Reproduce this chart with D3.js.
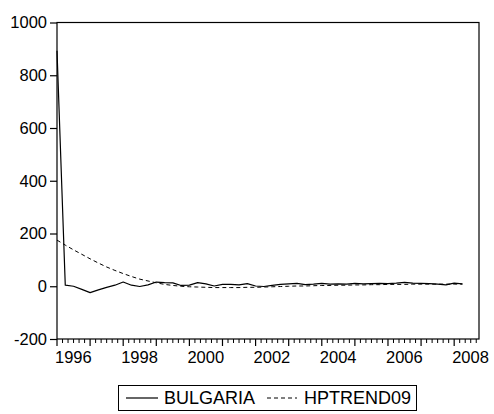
<!DOCTYPE html>
<html>
<head>
<meta charset="utf-8">
<script src="https://cdn.jsdelivr.net/npm/d3@7"></script>
<style>
  html, body { margin: 0; padding: 0; background: #fff; }
  svg { display: block; font-family: "Liberation Sans", Arial, sans-serif; }
</style>
</head>
<body>
<svg id="chart" width="494" height="414"></svg>
<script>
// Quarterly observations, 1996Q1 .. 2008Q2
const startYear = 1996;
const bulgaria = [
  893, 4, 0, -12, -24, -14, -4, 4, 16, 4,
  -1, 5, 16, 14, 13, 3, 4, 14, 9, 1,
  7, 7, 5, 10, 1, -1, 3, 7, 9, 11,
  6, 8, 11, 8, 9, 8, 11, 9, 10, 11,
  10, 12, 15, 12, 11, 10, 8, 5, 12, 9
];
const hptrend09 = [
  175, 156, 138, 121, 104, 88, 73, 60, 48, 37,
  27, 20, 13, 7, 3, 0, -2, -3, -4, -5,
  -5, -5, -5, -4, -4, -3, -2, -1, 0, 1,
  1, 2, 3, 3, 4, 4, 5, 5, 6, 6,
  7, 7, 7, 8, 8, 8, 8, 8, 8, 8
];
const yTicks = [-200, 0, 200, 400, 600, 800, 1000];
const xLabelYears = [1996, 1998, 2000, 2002, 2004, 2006, 2008];
const seriesNames = ["BULGARIA", "HPTREND09"];

const svg = d3.select("#chart");
const plot = { left: 57, right: 479, top: 22.5, bottom: 339 };

// x in months since Jan 1996; axis runs a little past the last observation
const x = d3.scaleLinear().domain([0, 153]).range([plot.left, plot.right]);
const y = d3.scaleLinear().domain([-200, 1000]).range([plot.bottom, plot.top]);

// frame
svg.append("rect")
  .attr("x", plot.left).attr("y", plot.top)
  .attr("width", plot.right - plot.left).attr("height", plot.bottom - plot.top)
  .attr("fill", "none").attr("stroke", "#000").attr("stroke-width", 1.2);

// y axis, plain integers with an ASCII hyphen for negatives
const yAxis = d3.axisLeft(y).tickValues(yTicks).tickSize(7).tickPadding(3)
  .tickFormat(d => String(d));
const gy = svg.append("g").attr("transform", `translate(${plot.left},0)`).call(yAxis);
gy.select(".domain").remove();
gy.selectAll("line").attr("stroke", "#000").attr("stroke-width", 1.2);
gy.selectAll("text").attr("font-size", "16.5px").attr("fill", "#000")
  .attr("font-family", '"Liberation Sans", Arial, sans-serif');

// x axis: minor ticks every two months, major ticks each January
const minorTicks = d3.range(0, 154, 2).filter(m => m % 12 !== 0);
const majorTicks = d3.range(0, 154, 12);
const gx = svg.append("g");
gx.selectAll("line.minor").data(minorTicks).join("line")
  .attr("class", "minor")
  .attr("x1", d => x(d)).attr("x2", d => x(d))
  .attr("y1", plot.bottom).attr("y2", plot.bottom + 4)
  .attr("stroke", "#000").attr("stroke-width", 1);
gx.selectAll("line.major").data(majorTicks).join("line")
  .attr("class", "major")
  .attr("x1", d => x(d)).attr("x2", d => x(d))
  .attr("y1", plot.bottom).attr("y2", plot.bottom + 7)
  .attr("stroke", "#000").attr("stroke-width", 1.2);
gx.selectAll("text").data(xLabelYears).join("text")
  .attr("x", d => x((d - startYear) * 12) - 2)
  .attr("y", 363)
  .attr("text-anchor", "start")
  .attr("font-size", "16.5px")
  .text(d => d);

// series
const line = d3.line()
  .x((d, i) => x(i * 3))
  .y(d => y(d));

svg.append("path").datum(hptrend09)
  .attr("d", line).attr("fill", "none")
  .attr("stroke", "#000").attr("stroke-width", 1)
  .attr("stroke-dasharray", "4,3");

svg.append("path").datum(bulgaria)
  .attr("d", line).attr("fill", "none")
  .attr("stroke", "#000").attr("stroke-width", 1.2)
  .attr("stroke-linejoin", "round");

// legend
const lg = svg.append("g");
lg.append("rect")
  .attr("x", 118.5).attr("y", 385.5).attr("width", 298).attr("height", 25)
  .attr("fill", "#fff").attr("stroke", "#000").attr("stroke-width", 1);
lg.append("line")
  .attr("x1", 126).attr("x2", 158).attr("y1", 398).attr("y2", 398)
  .attr("stroke", "#000").attr("stroke-width", 1.2);
lg.append("text").attr("x", 164).attr("y", 404)
  .attr("font-size", "18px").text(seriesNames[0]);
lg.append("line")
  .attr("x1", 267).attr("x2", 297).attr("y1", 398).attr("y2", 398)
  .attr("stroke", "#000").attr("stroke-width", 1)
  .attr("stroke-dasharray", "4,3");
lg.append("text").attr("x", 304).attr("y", 404)
  .attr("font-size", "18px").text(seriesNames[1]);
</script>
</body>
</html>
